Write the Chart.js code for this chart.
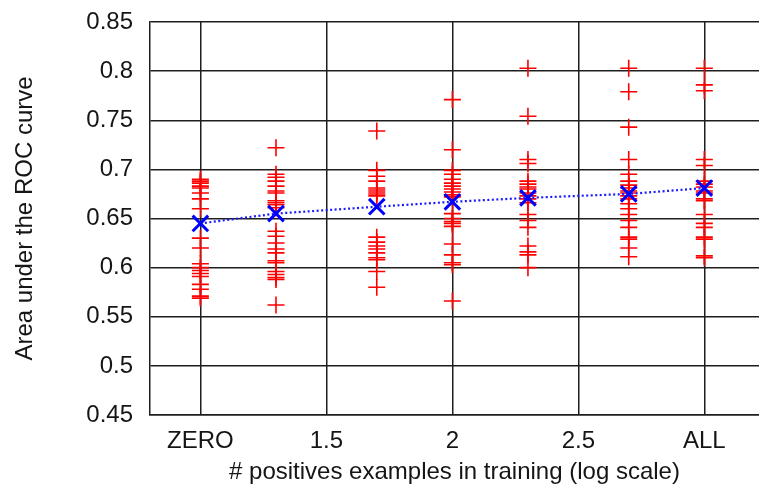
<!DOCTYPE html>
<html>
<head>
<meta charset="utf-8">
<script src="https://cdn.jsdelivr.net/npm/chart.js@4/dist/chart.umd.min.js"></script>
<style>
  html, body { margin: 0; padding: 0; background: #fff; overflow: hidden; }
  #wrap { width: 759px; height: 490px; position: relative; overflow: hidden; }
  canvas { display: block; }
</style>
</head>
<body>
<div id="wrap"><canvas id="c" width="759" height="490" style="width:759px;height:490px"></canvas></div>
<script>
// x positions (log10 of # positives; ZERO plotted at 1, ALL at 3)
const xPositions = [1.0, 1.3, 1.7, 2.0, 2.3, 2.7, 3.0];
const xTickValues = [1.0, 1.5, 2.0, 2.5, 3.0];
const xTickLabels = ['ZERO', '1.5', '2', '2.5', 'ALL'];
const yTickValues = [0.45, 0.5, 0.55, 0.6, 0.65, 0.7, 0.75, 0.8, 0.85];
const yTickLabels = ['0.45', '0.5', '0.55', '0.6', '0.65', '0.7', '0.75', '0.8', '0.85'];

// individual AUC values per training size
const aucZero = [0.690, 0.688, 0.686, 0.683, 0.681, 0.676, 0.670, 0.660, 0.630, 0.620, 0.604, 0.600, 0.597, 0.594, 0.591, 0.583, 0.578, 0.571, 0.569];
const auc20   = [0.722, 0.695, 0.692, 0.688, 0.683, 0.678, 0.676, 0.668, 0.666, 0.664, 0.661, 0.637, 0.632, 0.625, 0.619, 0.615, 0.607, 0.605, 0.596, 0.593, 0.590, 0.588, 0.562];
const auc50   = [0.739, 0.699, 0.693, 0.688, 0.681, 0.679, 0.677, 0.675, 0.673, 0.631, 0.626, 0.622, 0.619, 0.615, 0.610, 0.608, 0.596, 0.580];
const auc100  = [0.771, 0.720, 0.699, 0.695, 0.690, 0.686, 0.683, 0.680, 0.677, 0.674, 0.672, 0.655, 0.650, 0.647, 0.645, 0.642, 0.624, 0.613, 0.605, 0.603, 0.566];
const auc200  = [0.803, 0.754, 0.710, 0.706, 0.688, 0.685, 0.682, 0.680, 0.676, 0.673, 0.670, 0.666, 0.654, 0.648, 0.641, 0.622, 0.616, 0.613, 0.600];
const auc500  = [0.803, 0.779, 0.743, 0.710, 0.695, 0.688, 0.684, 0.681, 0.678, 0.676, 0.673, 0.670, 0.665, 0.660, 0.654, 0.648, 0.641, 0.631, 0.629, 0.620, 0.611];
const aucAll  = [0.803, 0.786, 0.780, 0.710, 0.704, 0.688, 0.685, 0.682, 0.678, 0.676, 0.670, 0.668, 0.654, 0.645, 0.641, 0.631, 0.629, 0.612, 0.610];
const meanAuc = [0.645, 0.655, 0.662, 0.667, 0.671, 0.675, 0.681];

const groups = [aucZero, auc20, auc50, auc100, auc200, auc500, aucAll];
const scatterPts = [];
groups.forEach((g, i) => g.forEach(v => scatterPts.push({x: xPositions[i], y: v})));
const meanPts = xPositions.map((x, i) => ({x: x, y: meanAuc[i]}));

const FONT = "'Liberation Sans', Arial, Helvetica, sans-serif";
const TXT = '#151515';
const GRID = '#1e1e1e';

new Chart(document.getElementById('c'), {
  type: 'scatter',
  data: {
    datasets: [
      {
        label: 'mean',
        data: meanPts,
        showLine: true,
        borderColor: '#1a1aff',
        borderWidth: 2.2,
        borderDash: [2, 2.5],
        pointStyle: 'crossRot',
        pointRadius: 11,
        pointBorderWidth: 3,
        pointBorderColor: '#0000ff',
        pointBackgroundColor: '#0000ff',
        order: 0
      },
      {
        label: 'auc',
        data: scatterPts,
        showLine: false,
        pointStyle: 'cross',
        pointRadius: 8.5,
        pointBorderWidth: 1.6,
        pointBorderColor: '#ff0000',
        pointBackgroundColor: '#ff0000',
        order: 1
      }
    ]
  },
  options: {
    responsive: false,
    maintainAspectRatio: false,
    animation: false,
    devicePixelRatio: 1,
    layout: { autoPadding: false, padding: { left: 11, right: 0, top: 22, bottom: 3 } },
    plugins: { legend: { display: false }, tooltip: { enabled: false } },
    scales: {
      x: {
        type: 'linear',
        min: 0.8,
        max: 3.217,
        afterBuildTicks: s => { s.ticks = xTickValues.map(v => ({value: v})); },
        afterFit: s => { s.height = 72; s.paddingLeft = 0; s.paddingRight = 0; },
        grid: { color: GRID, lineWidth: 1.5, drawTicks: false },
        border: { color: GRID, width: 1.5 },
        ticks: {
          padding: 12,
          color: TXT,
          font: { family: FONT, size: 24 },
          maxRotation: 0,
          callback: (v) => { const i = xTickValues.indexOf(v); return i >= 0 ? xTickLabels[i] : ''; }
        },
        title: {
          display: true,
          text: '# positives examples in training (log scale)',
          color: TXT,
          font: { family: FONT, size: 24 },
          padding: 0
        }
      },
      y: {
        type: 'linear',
        min: 0.45,
        max: 0.85,
        afterBuildTicks: s => { s.ticks = yTickValues.map(v => ({value: v})); },
        afterFit: s => { s.width = 139; s.paddingTop = 0; s.paddingBottom = 0; s.paddingRight = 0; s.paddingLeft = 0; },
        grid: { color: GRID, lineWidth: 1.5, drawTicks: false },
        border: { color: GRID, width: 1.5 },
        ticks: {
          padding: 17,
          color: TXT,
          font: { family: FONT, size: 24 },
          callback: (v) => { const i = yTickValues.findIndex(t => Math.abs(t - v) < 1e-9); return i >= 0 ? yTickLabels[i] : ''; }
        },
        title: {
          display: true,
          text: 'Area under the ROC curve',
          color: TXT,
          font: { family: FONT, size: 24 },
          padding: 0
        }
      }
    }
  }
});
</script>
</body>
</html>
